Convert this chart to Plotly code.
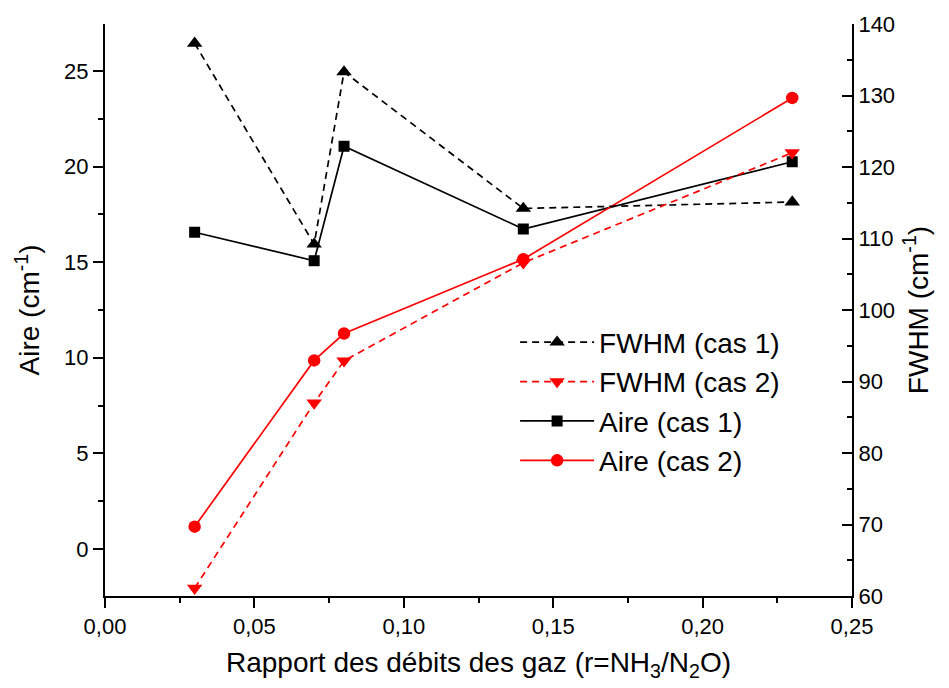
import plotly.graph_objects as go

# Gas flow ratio r = NH3/N2O
ratio = [0.03, 0.07, 0.08, 0.14, 0.23]

# FWHM (cm-1), right axis
fwhm_cas1 = [137.3, 109.2, 133.3, 114.2, 115.1]
fwhm_cas2 = [61.1, 87.0, 92.9, 106.6, 122.0]

# Peak area (cm-1), left axis
aire_cas1 = [16.57, 15.08, 21.07, 16.74, 20.26]
aire_cas2 = [1.16, 9.86, 11.27, 15.16, 23.6]

x_tickvals = [0.00, 0.05, 0.10, 0.15, 0.20, 0.25]
x_ticktext = ["0,00", "0,05", "0,10", "0,15", "0,20", "0,25"]
y_tickvals = [0, 5, 10, 15, 20, 25]
y2_tickvals = [60, 70, 80, 90, 100, 110, 120, 130, 140]

FONT = "Liberation Sans, Arial, sans-serif"
RED = "#ff0000"
BLACK = "#000000"

fig = go.Figure()

fig.add_trace(go.Scatter(
    x=ratio, y=fwhm_cas1, name="FWHM (cas 1)", yaxis="y2",
    mode="lines+markers",
    line=dict(color=BLACK, width=1.7, dash="7px,5px"),
    marker=dict(symbol="triangle-up", size=13.5, color=BLACK),
))
fig.add_trace(go.Scatter(
    x=ratio, y=fwhm_cas2, name="FWHM (cas 2)", yaxis="y2",
    mode="lines+markers",
    line=dict(color=RED, width=1.7, dash="7px,5px"),
    marker=dict(symbol="triangle-down", size=13.5, color=RED),
))
fig.add_trace(go.Scatter(
    x=ratio, y=aire_cas1, name="Aire (cas 1)",
    mode="lines+markers",
    line=dict(color=BLACK, width=1.7),
    marker=dict(symbol="square", size=11, color=BLACK),
))
fig.add_trace(go.Scatter(
    x=ratio, y=aire_cas2, name="Aire (cas 2)",
    mode="lines+markers",
    line=dict(color=RED, width=1.7),
    marker=dict(symbol="circle", size=12.5, color=RED),
))

x_range = [0.0, 0.25]
tick_font = dict(family=FONT, size=22, color=BLACK)
title_font = dict(family=FONT, size=28, color=BLACK)

fig.update_layout(
    width=949, height=688,
    margin=dict(l=105, r=97, t=22, b=92),
    paper_bgcolor="white", plot_bgcolor="white",
    font=dict(family=FONT, color=BLACK),
    showlegend=True,
    legend=dict(
        x=0.549, y=0.487, xanchor="left", yanchor="top",
        bgcolor="rgba(0,0,0,0)", borderwidth=0,
        font=dict(family=FONT, size=28, color=BLACK),
        itemwidth=74, traceorder="normal",
    ),
    xaxis=dict(
        range=x_range, tickvals=x_tickvals, ticktext=x_ticktext,
        showgrid=False, zeroline=False,
        showline=True, linecolor=BLACK, linewidth=2,
        ticks="outside", ticklen=10, tickwidth=2, tickcolor=BLACK,
        minor=dict(ticks="outside", ticklen=5, tickwidth=2, tickcolor=BLACK,
                   dtick=0.025, tick0=0, showgrid=False),
        tickfont=tick_font,
        title=dict(text="Rapport des débits des gaz (r=NH<sub>3</sub>/N<sub>2</sub>O)",
                   font=title_font, standoff=14),
    ),
    xaxis2=dict(
        range=x_range, overlaying="x", side="top", anchor="y",
        tickvals=x_tickvals, showticklabels=False,
        showgrid=False, zeroline=False,
        showline=True, linecolor=BLACK, linewidth=2,
        ticks="inside", ticklen=10, tickwidth=2, tickcolor=BLACK,
        minor=dict(ticks="inside", ticklen=5, tickwidth=2, tickcolor=BLACK,
                   dtick=0.025, tick0=0, showgrid=False),
    ),
    yaxis=dict(
        range=[-2.47, 27.47], tickvals=y_tickvals,
        showgrid=False, zeroline=False,
        showline=True, linecolor=BLACK, linewidth=2,
        ticks="outside", ticklen=10, tickwidth=2, tickcolor=BLACK,
        minor=dict(ticks="outside", ticklen=5, tickwidth=2, tickcolor=BLACK,
                   dtick=2.5, tick0=0, showgrid=False),
        tickfont=tick_font,
        title=dict(text="Aire (cm<sup>-1</sup>)", font=title_font, standoff=16),
    ),
    yaxis2=dict(
        range=[60, 140], tickvals=y2_tickvals,
        overlaying="y", side="right", anchor="x",
        showgrid=False, zeroline=False,
        showline=True, linecolor=BLACK, linewidth=2,
        ticks="inside", ticklen=10, tickwidth=2, tickcolor=BLACK,
        minor=dict(ticks="inside", ticklen=5, tickwidth=2, tickcolor=BLACK,
                   dtick=5, tick0=60, showgrid=False),
        tickfont=tick_font,
        title=dict(text="FWHM (cm<sup>-1</sup>)", font=title_font, standoff=14),
    ),
)

fig.write_html("out.html")
